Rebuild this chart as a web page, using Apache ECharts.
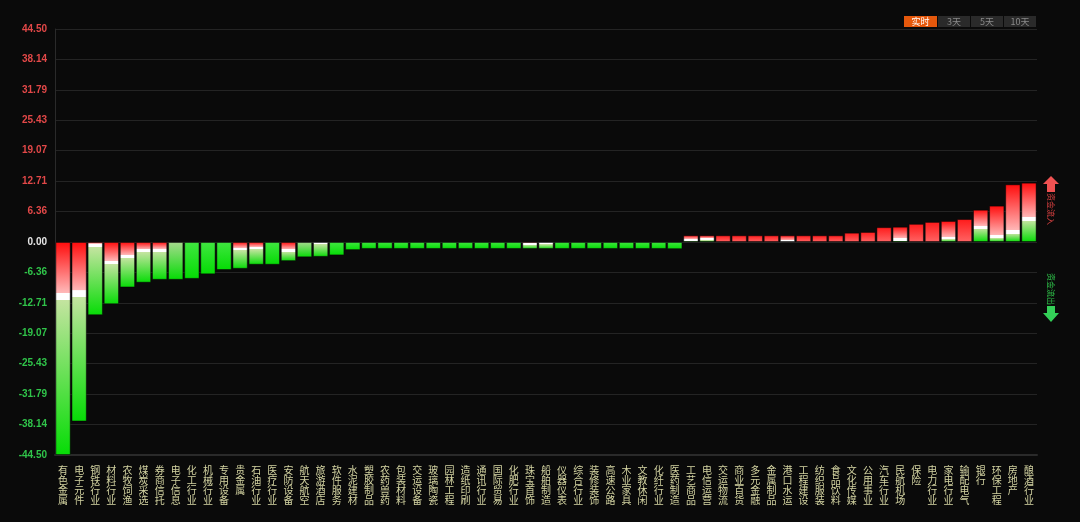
<!DOCTYPE html>
<html><head><meta charset="utf-8">
<script src="https://cdn.jsdelivr.net/npm/echarts/dist/echarts.min.js"></script>
<style>html,body{margin:0;padding:0;background:#0a0a0a;}#c{width:1080px;height:522px;}</style>
</head><body><div id="c"></div>
<script>
const categories = ['有色金属','电子元件','钢铁行业','材料行业','农牧饲渔','煤炭采选','券商信托','电子信息','化工行业','机械行业',
  '专用设备','贵金属','石油行业','医疗行业','安防设备','航天航空','旅游酒店','软件服务','水泥建材','塑胶制品',
  '农药兽药','包装材料','交运设备','玻璃陶瓷','园林工程','造纸印刷','通讯行业','国际贸易','化肥行业','珠宝首饰',
  '船舶制造','仪器仪表','综合行业','装修装饰','高速公路','木业家具','文教休闲','化纤行业','医药制造','工艺商品',
  '电信运营','交运物流','商业百货','多元金融','金属制品','港口水运','工程建设','纺织服装','食品饮料','文化传媒',
  '公用事业','汽车行业','民航机场','保险','电力行业','家电行业','输配电气','银行','环保工程','房地产','酿酒行业'];
// net flow of each industry
const netFlow = [-44.5,-37.5,-15.3,-13.0,-9.5,-8.5,-7.9,-7.9,-7.7,-6.75,
  -5.85,-5.6,-4.75,-4.75,-4.0,-3.2,-3.1,-2.8,-1.7,-1.45,
  -1.45,-1.45,-1.45,-1.45,-1.45,-1.45,-1.45,-1.45,-1.45,-1.45,
  -1.45,-1.45,-1.45,-1.45,-1.45,-1.45,-1.45,-1.45,-1.5,1.4,
  1.4,1.4,1.4,1.4,1.4,1.4,1.4,1.4,1.4,1.95,
  2.1,3.1,3.2,3.8,4.2,4.4,4.8,6.75,7.6,12.05,12.4];
// value where the red (inflow) part meets the green (outflow) part; null = single colour
const splitAt = [-11.3,-10.75,-0.7,-4.3,-3.0,-1.85,-1.7,0,null,null,
  null,-1.5,-1.3,null,-1.8,0,-0.25,null,null,null,
  null,null,null,null,null,null,null,null,null,-0.35,
  -0.3,null,null,null,null,null,null,null,null,0.4,
  0.55,null,null,null,null,0.15,null,null,null,null,
  null,null,0.55,null,null,0.8,null,3.1,1.1,2.1,4.8];
const yLimit = 44.5;
const ySteps = 7;
const periodTabs = ['实时','3天','5天','10天'];
const flowInLabel = '资金流入';
const flowOutLabel = '资金流出';

const G = echarts.graphic.LinearGradient;
function gradFor(v, s) {
  if (s === null) {
    return v >= 0
      ? new G(0,0,0,1,[{offset:0,color:'#ff1a1a'},{offset:1,color:'#ff6464'}])
      : new G(0,0,0,1,[{offset:0,color:'#40e640'},{offset:1,color:'#04dc04'}]);
  }
  if (s === 0 && v < 0) {
    return new G(0,0,0,1,[{offset:0,color:'#a6da8e'},{offset:1,color:'#04dc04'}]);
  }
  const f = v < 0 ? s / v : (v - s) / v;
  const h = Math.min(0.012 + 0.2 / Math.abs(v), 0.2);
  const c = x => Math.max(0, Math.min(1, x));
  const a = c(f - h), b = c(f + h);
  return new G(0,0,0,1,[
    {offset:0,color:'#ff0c0c'},
    {offset:a,color:'#ffb8b8'},
    {offset:c(a+0.001),color:'#ffffff'},
    {offset:b,color:'#ffffff'},
    {offset:c(b+0.001),color:'#c4e4a0'},
    {offset:1,color:'#06dc06'}
  ]);
}

const chart = echarts.init(document.getElementById('c'));
const tabGraphics = [];
const tabX = [904, 938, 971, 1004];
const tabW = [33, 32, 32, 32];
periodTabs.forEach((t, i) => {
  tabGraphics.push({type:'rect', left:tabX[i], top:16, shape:{width:tabW[i], height:11},
    style:{fill: i === 0 ? '#e5580c' : '#2a2a2a'}});
  tabGraphics.push({type:'text', x:tabX[i] + tabW[i]/2, y:21.5,
    style:{text:t, fill: i === 0 ? '#ffffff' : '#8a8a8a', font:'9px "Noto Sans CJK SC"', align:'center', verticalAlign:'middle'}});
});

chart.setOption({
  animation: false,
  backgroundColor: '#0a0a0a',
  grid: {left: 55, right: 43, top: 29, bottom: 67},
  xAxis: {
    type: 'category', data: categories,
    axisLine: {onZero: false, lineStyle: {color: '#2a2a2a', width: 2}},
    axisTick: {show: false},
    axisLabel: {interval: 0, color: '#d4d4a2', fontSize: 10, lineHeight: 10, margin: 10,
      fontFamily: '"Noto Sans CJK SC"', verticalAlign: 'top',
      formatter: s => s.split('').join('\n')}
  },
  yAxis: {
    type: 'value', min: -yLimit, max: yLimit, interval: yLimit / ySteps,
    axisLine: {show: true, lineStyle: {color: '#2a2a2a'}},
    axisTick: {show: false},
    splitLine: {show: true, showMaxLine: false, lineStyle: {color: '#242424'}},
    axisLabel: {margin: 8, fontSize: 10, fontWeight: 'bold', fontFamily: '"Liberation Sans", Arial',
      formatter: v => Math.abs(v) < 1e-9 ? '0.00' : v.toFixed(2),
      color: v => v > 1e-9 ? '#e24848' : (v < -1e-9 ? '#30c44a' : '#e6e6e6')}
  },
  series: [{
    type: 'bar', barCategoryGap: '5%',
    itemStyle: {borderColor: 'rgba(0,0,0,0.45)', borderWidth: 1},
    data: netFlow.map((v, i) => ({value: v, itemStyle: {color: gradFor(v, splitAt[i])}}))
  }],
  graphic: tabGraphics.concat([
    {type:'polygon', shape:{points:[[1051,176],[1059,184],[1055,184],[1055,192],[1047,192],[1047,184],[1043,184]]},
      style:{fill:'#f05252'}},
    {type:'text', x:1051, y:209, rotation:-Math.PI/2,
      style:{text:flowInLabel, fill:'#d84040', font:'8px "Noto Sans CJK SC"', align:'center', verticalAlign:'middle'}},
    {type:'text', x:1051, y:289, rotation:-Math.PI/2,
      style:{text:flowOutLabel, fill:'#2fc44a', font:'8px "Noto Sans CJK SC"', align:'center', verticalAlign:'middle'}},
    {type:'polygon', shape:{points:[[1047,306],[1055,306],[1055,313],[1059,313],[1051,322],[1043,313],[1047,313]]},
      style:{fill:'#34d058'}}
  ])
});
</script>
</body></html>
